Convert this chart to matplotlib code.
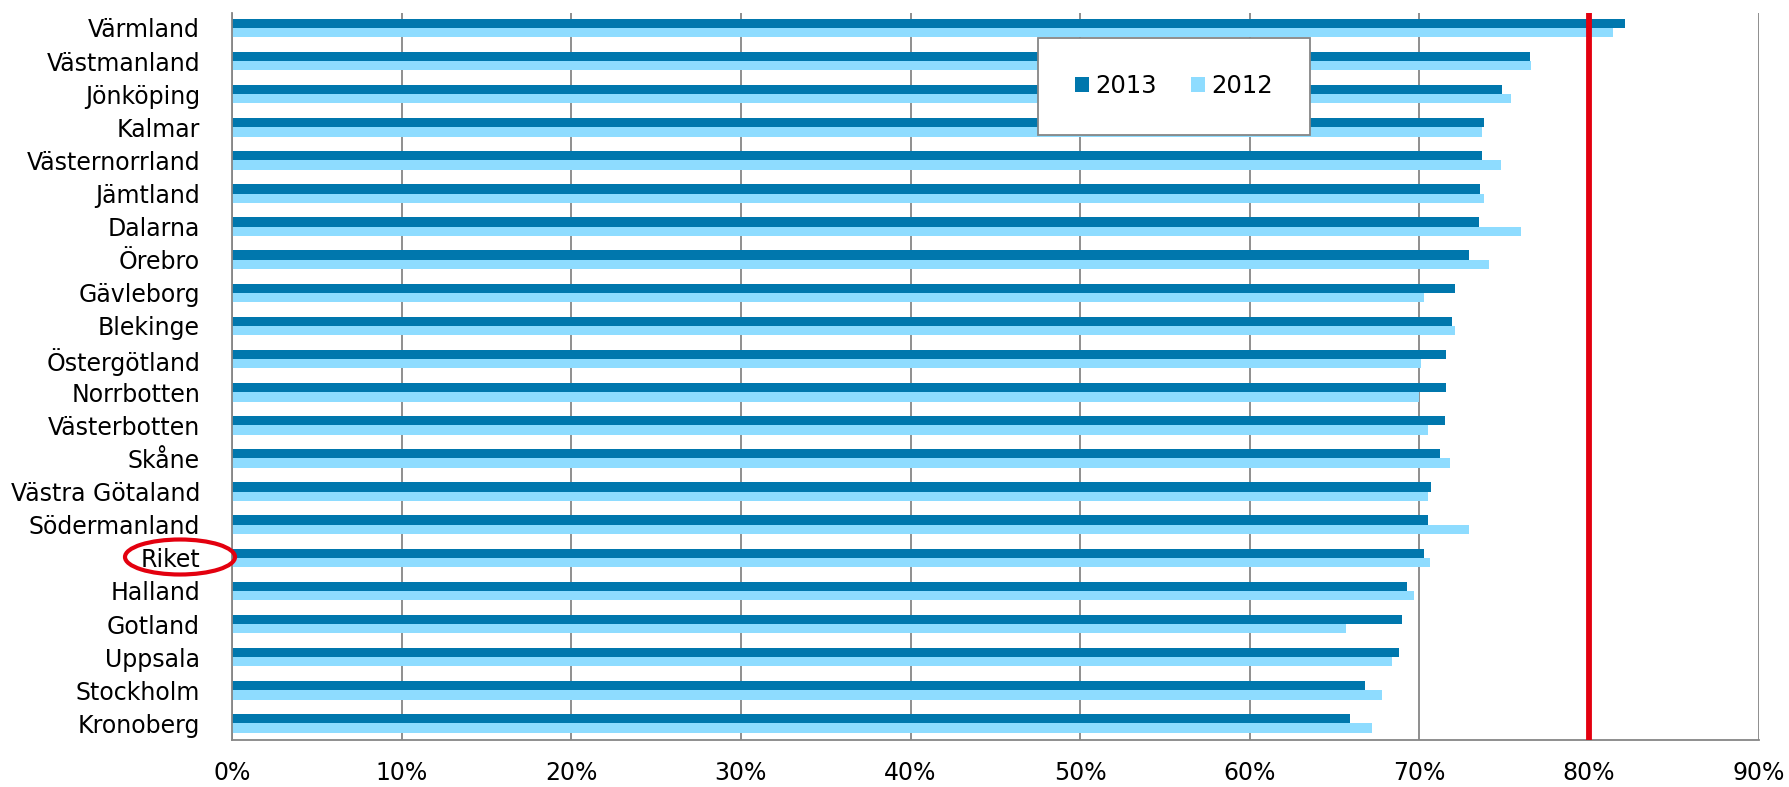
import numpy as np
import matplotlib.pyplot as plt
from matplotlib.patches import Ellipse

regions = ["Värmland", "Västmanland", "Jönköping", "Kalmar", "Västernorrland",
           "Jämtland", "Dalarna", "Örebro", "Gävleborg", "Blekinge",
           "Östergötland", "Norrbotten", "Västerbotten", "Skåne",
           "Västra Götaland", "Södermanland", "Riket", "Halland", "Gotland",
           "Uppsala", "Stockholm", "Kronoberg"]
v2013 = [82.1, 76.5, 74.9, 73.8, 73.7, 73.6, 73.5, 72.9, 72.1, 71.9,
         71.6, 71.6, 71.5, 71.2, 70.7, 70.5, 70.3, 69.3, 69.0, 68.8, 66.8, 65.9]
v2012 = [81.4, 76.6, 75.4, 73.7, 74.8, 73.8, 76.0, 74.1, 70.3, 72.1,
         70.1, 70.0, 70.5, 71.8, 70.5, 72.9, 70.6, 69.7, 65.7, 68.4, 67.8, 67.2]
target = 80
xticks = np.arange(0, 91, 10)

dark = "#0077ad"
light = "#8edcff"

fig = plt.figure(figsize=(17.89, 7.87), dpi=100)
ax = fig.add_axes([0.1297, 0.0597, 0.8533, 0.9238])

n = len(regions)
y = np.arange(n)[::-1]
h = 0.28
ax.barh(y + h / 2, v2013, height=h, color=dark, label="2013", zorder=2)
ax.barh(y - h / 2, v2012, height=h, color=light, label="2012", zorder=2)
ax.axvline(target, color="#e3000f", lw=4.2, zorder=3)

ax.set_xlim(0, 90)
ax.set_ylim(-0.5, n - 0.55)
ax.set_xticks(xticks)
ax.set_xticklabels([f"{t}%" for t in xticks])
ax.set_yticks(y)
ax.set_yticklabels(regions)
ax.tick_params(axis="both", length=0, labelsize=17)
ax.tick_params(axis="x", pad=15)
ax.tick_params(axis="y", pad=23)
ax.xaxis.grid(True, color="#868686", lw=1.3, zorder=0)
ax.set_axisbelow(True)
for s in ["top", "right"]:
    ax.spines[s].set_visible(False)
for s in ["left", "bottom"]:
    ax.spines[s].set_color("#868686")
    ax.spines[s].set_linewidth(1.3)

leg = ax.legend(ncol=2, loc="upper left", bbox_to_anchor=(0.528, 0.966),
                fontsize=17.5, frameon=True, fancybox=False, framealpha=1,
                handlelength=0.6, handleheight=0.6, borderpad=1.5,
                columnspacing=1.4, handletextpad=0.25, borderaxespad=0)
leg.get_frame().set_edgecolor("#868686")
leg.get_frame().set_linewidth(1.3)

fig.patches.append(Ellipse((180 / 1789, 1 - 557 / 787), 110 / 1789, 35 / 787,
                           transform=fig.transFigure, fill=False,
                           edgecolor="#e3000f", lw=3))

fig.savefig("out.png", dpi=100)
